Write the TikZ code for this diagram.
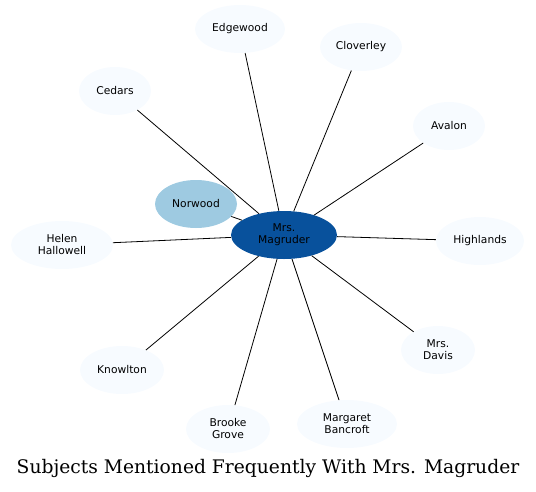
\documentclass[tikz,border=0pt]{standalone}
\usepackage{fontspec}
\usetikzlibrary{shapes.geometric}
\newfontfamily\nodefont{DejaVu Sans}
\newfontfamily\titlefont{DejaVu Serif}
\definecolor{lightnode}{HTML}{F7FBFF}
\definecolor{midnode}{HTML}{9ECAE1}
\definecolor{darknode}{HTML}{08519C}
\tikzset{
  subj/.style={ellipse, fill=lightnode, draw=none, inner sep=0pt, minimum height=48pt,
    font=\nodefont\fontsize{10.7}{12}\selectfont, align=center},
  link/.style={draw=black, line width=0.8pt},
}
\begin{document}
\begin{tikzpicture}[x=1pt,y=-1pt]
\useasboundingbox (0,0) rectangle (536,491);
\node[subj, fill=darknode, minimum width=106pt] (mag) at (284,235) {Mrs.\\Magruder};
\node[subj, fill=midnode, minimum width=82pt] (nor) at (196,204) {Norwood};
\node[subj, minimum width=90pt] (edg) at (240,29) {Edgewood};
\node[subj, minimum width=82pt] (clo) at (361,47) {Cloverley};
\node[subj, minimum width=72pt] (ced) at (115,91) {Cedars};
\node[subj, minimum width=72pt] (ava) at (449,126) {Avalon};
\node[subj, minimum width=102pt] (hel) at (62,245) {Helen\\Hallowell};
\node[subj, minimum width=88pt] (hig) at (480,241) {Highlands};
\node[subj, minimum width=74pt] (dav) at (438,350) {Mrs.\\Davis};
\node[subj, minimum width=84pt] (kno) at (122,370) {Knowlton};
\node[subj, minimum width=84pt] (bro) at (228,429) {Brooke\\Grove};
\node[subj, minimum width=100pt] (mar) at (347,424) {Margaret\\Bancroft};
\node[font=\titlefont\fontsize{18.7}{21}\selectfont] (title) at (268,468) {Subjects Mentioned Frequently With Mrs. Magruder};
\foreach \n in {nor,edg,clo,ced,ava,hel,hig,dav,kno,bro,mar}
  \draw[link] (mag) -- (\n);
\end{tikzpicture}
\end{document}
